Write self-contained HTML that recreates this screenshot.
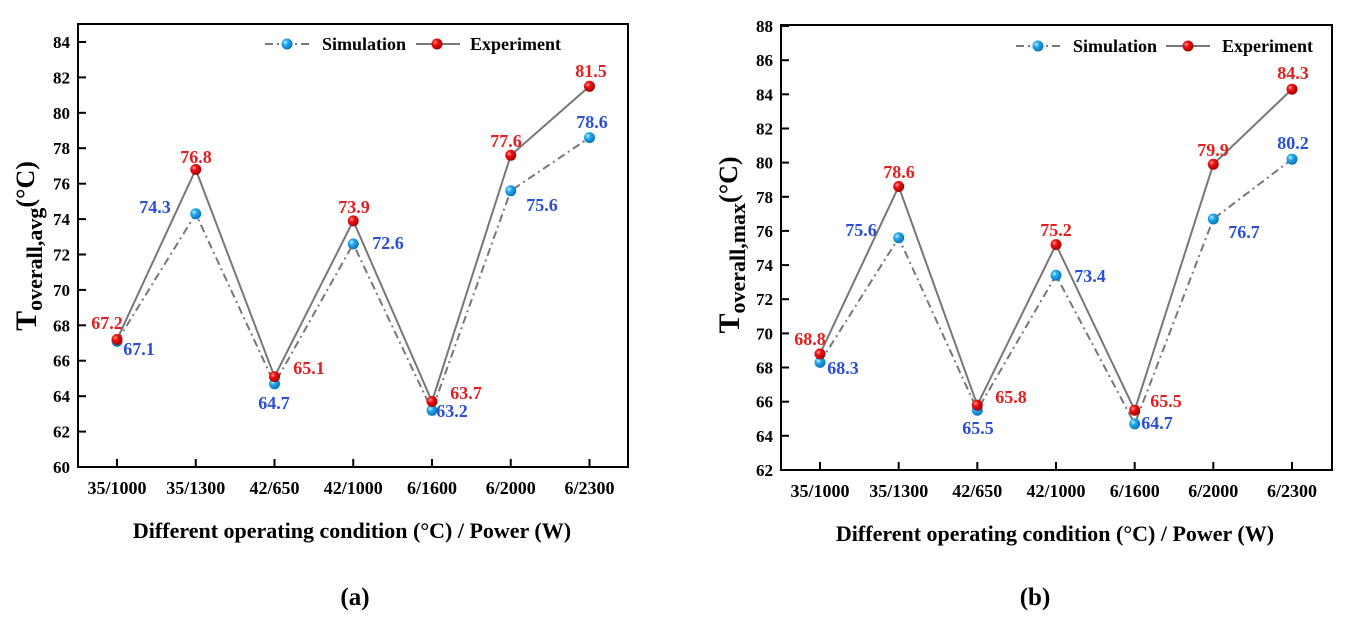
<!DOCTYPE html>
<html><head><meta charset="utf-8"><style>
html,body{margin:0;padding:0;background:#fff;}
svg text{font-family:"Liberation Serif",serif;font-weight:bold;}
</style></head><body>
<svg width="1348" height="616" viewBox="0 0 1348 616" xmlns="http://www.w3.org/2000/svg">
<defs>
<radialGradient id="rg" cx="0.35" cy="0.35" r="0.7"><stop offset="0" stop-color="#ff9a9a"/><stop offset="0.35" stop-color="#ee1111"/><stop offset="1" stop-color="#a00000"/></radialGradient>
<radialGradient id="bg" cx="0.35" cy="0.35" r="0.7"><stop offset="0" stop-color="#c8f0ff"/><stop offset="0.35" stop-color="#22aaee"/><stop offset="1" stop-color="#0a6fb0"/></radialGradient>
</defs>
<g fill="none" stroke="#000" stroke-width="2">
<rect x="78" y="24" width="550" height="443"/>
<rect x="781" y="25" width="551" height="445"/>
</g>
<g stroke="#000" stroke-width="2">
<line x1="78" y1="467" x2="86" y2="467"/><line x1="78" y1="431.6" x2="86" y2="431.6"/><line x1="78" y1="396.2" x2="86" y2="396.2"/><line x1="78" y1="360.7" x2="86" y2="360.7"/><line x1="78" y1="325.3" x2="86" y2="325.3"/><line x1="78" y1="289.9" x2="86" y2="289.9"/><line x1="78" y1="254.5" x2="86" y2="254.5"/><line x1="78" y1="219.1" x2="86" y2="219.1"/><line x1="78" y1="183.7" x2="86" y2="183.7"/><line x1="78" y1="148.2" x2="86" y2="148.2"/><line x1="78" y1="112.8" x2="86" y2="112.8"/><line x1="78" y1="77.4" x2="86" y2="77.4"/><line x1="78" y1="42" x2="86" y2="42"/>
<line x1="117" y1="467" x2="117" y2="459"/><line x1="195.75" y1="467" x2="195.75" y2="459"/><line x1="274.5" y1="467" x2="274.5" y2="459"/><line x1="353.25" y1="467" x2="353.25" y2="459"/><line x1="432" y1="467" x2="432" y2="459"/><line x1="510.75" y1="467" x2="510.75" y2="459"/><line x1="589.5" y1="467" x2="589.5" y2="459"/>
<line x1="781" y1="470" x2="789" y2="470"/><line x1="781" y1="435.8" x2="789" y2="435.8"/><line x1="781" y1="401.7" x2="789" y2="401.7"/><line x1="781" y1="367.5" x2="789" y2="367.5"/><line x1="781" y1="333.4" x2="789" y2="333.4"/><line x1="781" y1="299.2" x2="789" y2="299.2"/><line x1="781" y1="265.1" x2="789" y2="265.1"/><line x1="781" y1="230.9" x2="789" y2="230.9"/><line x1="781" y1="196.8" x2="789" y2="196.8"/><line x1="781" y1="162.6" x2="789" y2="162.6"/><line x1="781" y1="128.5" x2="789" y2="128.5"/><line x1="781" y1="94.3" x2="789" y2="94.3"/><line x1="781" y1="60.2" x2="789" y2="60.2"/><line x1="781" y1="26" x2="789" y2="26"/>
<line x1="820" y1="470" x2="820" y2="462"/><line x1="898.7" y1="470" x2="898.7" y2="462"/><line x1="977.3" y1="470" x2="977.3" y2="462"/><line x1="1056" y1="470" x2="1056" y2="462"/><line x1="1134.7" y1="470" x2="1134.7" y2="462"/><line x1="1213.3" y1="470" x2="1213.3" y2="462"/><line x1="1292" y1="470" x2="1292" y2="462"/>
</g>
<g font-size="17" text-anchor="end" fill="#000">
<text x="70" y="473">60</text><text x="70" y="437.6">62</text><text x="70" y="402.2">64</text><text x="70" y="366.7">66</text><text x="70" y="331.3">68</text><text x="70" y="295.9">70</text><text x="70" y="260.5">72</text><text x="70" y="225.1">74</text><text x="70" y="189.7">76</text><text x="70" y="154.2">78</text><text x="70" y="118.8">80</text><text x="70" y="83.4">82</text><text x="70" y="48">84</text>
<text x="773" y="476">62</text><text x="773" y="441.8">64</text><text x="773" y="407.7">66</text><text x="773" y="373.5">68</text><text x="773" y="339.4">70</text><text x="773" y="305.2">72</text><text x="773" y="271.1">74</text><text x="773" y="236.9">76</text><text x="773" y="202.8">78</text><text x="773" y="168.6">80</text><text x="773" y="134.5">82</text><text x="773" y="100.3">84</text><text x="773" y="66.2">86</text><text x="773" y="32">88</text>
</g>
<g font-size="18" text-anchor="middle" fill="#000">
<text x="117" y="494">35/1000</text><text x="195.75" y="494">35/1300</text><text x="274.5" y="494">42/650</text><text x="353.25" y="494">42/1000</text><text x="432" y="494">6/1600</text><text x="510.75" y="494">6/2000</text><text x="589.5" y="494">6/2300</text>
<text x="820" y="497">35/1000</text><text x="898.7" y="497">35/1300</text><text x="977.3" y="497">42/650</text><text x="1056" y="497">42/1000</text><text x="1134.7" y="497">6/1600</text><text x="1213.3" y="497">6/2000</text><text x="1292" y="497">6/2300</text>
<text x="352" y="538" font-size="22">Different operating condition (°C) / Power (W)</text>
<text x="1055" y="541" font-size="22">Different operating condition (°C) / Power (W)</text>
<text x="355" y="605" font-size="25">(a)</text>
<text x="1035" y="605" font-size="25">(b)</text>
</g>
<text transform="translate(36,246) rotate(-90)" text-anchor="middle" font-size="30" fill="#000">T<tspan font-size="22" dy="6">overall,avg</tspan><tspan dy="-8" font-size="26">(°C)</tspan></text>
<text transform="translate(739,245) rotate(-90)" text-anchor="middle" font-size="30" fill="#000">T<tspan font-size="22" dy="6">overall,max</tspan><tspan dy="-8" font-size="26">(°C)</tspan></text>
<g fill="none" stroke-width="2">
<polyline stroke="#777" stroke-dasharray="8,4,2,4" points="117,341.3 195.75,213.8 274.5,383.8 353.25,243.9 432,410.3 510.75,190.8 589.5,137.6"/>
<polyline stroke="#777" points="117,339.5 195.75,169.5 274.5,376.7 353.25,220.9 432,401.5 510.75,155.3 589.5,86.3"/>
<polyline stroke="#777" stroke-dasharray="8,4,2,4" points="820,362.4 898.7,237.8 977.3,410.2 1056,275.3 1134.7,423.9 1213.3,219 1292,159.2"/>
<polyline stroke="#777" points="820,353.9 898.7,186.5 977.3,405.1 1056,244.6 1134.7,410.2 1213.3,164.3 1292,89.2"/>
<line x1="265" y1="44" x2="310" y2="44" stroke="#777" stroke-dasharray="8,4,2,4"/>
<line x1="416" y1="44" x2="460" y2="44" stroke="#777"/>
<line x1="1016" y1="46" x2="1061" y2="46" stroke="#777" stroke-dasharray="8,4,2,4"/>
<line x1="1166" y1="46" x2="1210" y2="46" stroke="#777"/>
</g>
<g fill="url(#bg)">
<circle cx="117" cy="341.3" r="5.5"/><circle cx="195.75" cy="213.8" r="5.5"/><circle cx="274.5" cy="383.8" r="5.5"/><circle cx="353.25" cy="243.9" r="5.5"/><circle cx="432" cy="410.3" r="5.5"/><circle cx="510.75" cy="190.8" r="5.5"/><circle cx="589.5" cy="137.6" r="5.5"/>
<circle cx="820" cy="362.4" r="5.5"/><circle cx="898.7" cy="237.8" r="5.5"/><circle cx="977.3" cy="410.2" r="5.5"/><circle cx="1056" cy="275.3" r="5.5"/><circle cx="1134.7" cy="423.9" r="5.5"/><circle cx="1213.3" cy="219" r="5.5"/><circle cx="1292" cy="159.2" r="5.5"/>
<circle cx="287" cy="44" r="5.5"/><circle cx="1038" cy="46" r="5.5"/>
</g>
<g fill="url(#rg)">
<circle cx="117" cy="339.5" r="5.5"/><circle cx="195.75" cy="169.5" r="5.5"/><circle cx="274.5" cy="376.7" r="5.5"/><circle cx="353.25" cy="220.9" r="5.5"/><circle cx="432" cy="401.5" r="5.5"/><circle cx="510.75" cy="155.3" r="5.5"/><circle cx="589.5" cy="86.3" r="5.5"/>
<circle cx="820" cy="353.9" r="5.5"/><circle cx="898.7" cy="186.5" r="5.5"/><circle cx="977.3" cy="405.1" r="5.5"/><circle cx="1056" cy="244.6" r="5.5"/><circle cx="1134.7" cy="410.2" r="5.5"/><circle cx="1213.3" cy="164.3" r="5.5"/><circle cx="1292" cy="89.2" r="5.5"/>
<circle cx="437" cy="44" r="5.5"/><circle cx="1188" cy="46" r="5.5"/>
</g>
<g font-size="18" fill="#000">
<text x="322" y="50">Simulation</text><text x="470" y="50">Experiment</text>
<text x="1073" y="52">Simulation</text><text x="1222" y="52">Experiment</text>
</g>
<g font-size="18" fill="#e32020" text-anchor="middle">
<text x="107" y="329">67.2</text><text x="196" y="163">76.8</text><text x="309" y="374">65.1</text><text x="354" y="213">73.9</text><text x="466" y="399">63.7</text><text x="506" y="147">77.6</text><text x="591" y="77">81.5</text>
<text x="810" y="345">68.8</text><text x="899" y="178">78.6</text><text x="1011" y="403">65.8</text><text x="1056" y="236">75.2</text><text x="1166" y="407">65.5</text><text x="1213" y="156">79.9</text><text x="1293" y="79">84.3</text>
</g>
<g font-size="18" fill="#2a4fd6" text-anchor="middle">
<text x="139" y="355">67.1</text><text x="155" y="213">74.3</text><text x="274" y="409">64.7</text><text x="388" y="249">72.6</text><text x="452" y="417">63.2</text><text x="542" y="211">75.6</text><text x="592" y="128">78.6</text>
<text x="843" y="374">68.3</text><text x="861" y="236">75.6</text><text x="978" y="434">65.5</text><text x="1090" y="282">73.4</text><text x="1157" y="429">64.7</text><text x="1244" y="238">76.7</text><text x="1293" y="149">80.2</text>
</g>
</svg>
</body></html>
